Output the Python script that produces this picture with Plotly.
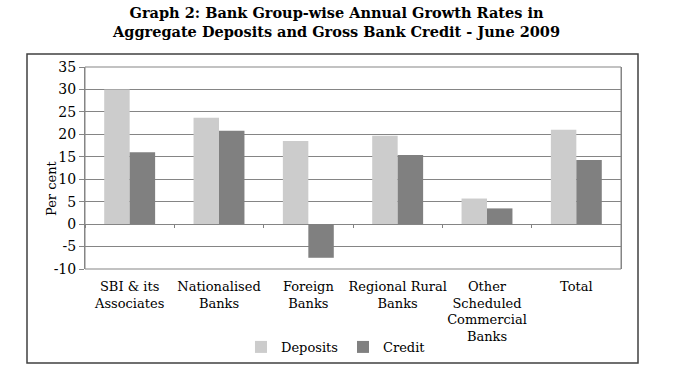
import plotly.graph_objects as go

categories = ["SBI & its<br>Associates", "Nationalised<br>Banks", "Foreign<br>Banks",
              "Regional Rural<br>Banks", "Other<br>Scheduled<br>Commercial<br>Banks", "Total"]
deposits = [30.0, 23.7, 18.5, 19.7, 5.7, 21.0]
credit = [16.0, 20.8, -7.5, 15.4, 3.5, 14.3]
y_ticks = list(range(-10, 40, 5))
y_ticktext = [str(v) for v in y_ticks]

FONT = "DejaVu Serif"
fig = go.Figure()
fig.add_trace(go.Bar(x=categories, y=deposits, name="Deposits", marker_color="#cccccc",
                     marker_line_width=0))
fig.add_trace(go.Bar(x=categories, y=credit, name="Credit", marker_color="#808080",
                     marker_line_width=0))
# invisible trace for the zero-line tick axis
fig.add_trace(go.Scatter(x=categories, y=[None] * len(categories), xaxis="x2", mode="markers",
                         showlegend=False, hoverinfo="skip"))

fig.update_layout(
    width=689, height=378,
    margin=dict(l=85, r=68, t=67, b=109, autoexpand=False),
    paper_bgcolor="white", plot_bgcolor="white",
    font=dict(family=FONT, color="black", size=13),
    barmode="group", bargap=0.43, bargroupgap=0,
    showlegend=True,
    legend=dict(orientation="h", x=0.291, xanchor="left", y=-0.386, yanchor="middle",
                font=dict(family=FONT, size=13), bgcolor="rgba(0,0,0,0)"),
    xaxis=dict(showgrid=False, ticks="outside", ticklen=5, tickcolor="rgba(0,0,0,0)",
               showline=False, zeroline=False, tickangle=0,
               automargin=False, tickfont=dict(family=FONT, size=13)),
    xaxis2=dict(matches="x", overlaying="x", anchor="free", position=(0 - (-10)) / 45,
                showticklabels=False, ticks="outside", ticklen=3, tickcolor="#808080",
                automargin=False,
                tickson="boundaries", showgrid=False, showline=False, zeroline=False),
    yaxis=dict(range=[-10, 35], tickvals=y_ticks, ticktext=y_ticktext, automargin=False,
               showgrid=True, gridcolor="#858585", gridwidth=1,
               zeroline=True, zerolinecolor="#858585", zerolinewidth=1,
               ticks="outside", ticklen=5, tickcolor="#858585",
               showline=True, linecolor="#858585", mirror=True,
               tickfont=dict(family=FONT, size=14)),
)
fig.add_annotation(text="<b>Graph 2: Bank Group-wise Annual Growth Rates in<br>Aggregate Deposits and Gross Bank Credit - June 2009</b>",
                   xref="paper", yref="paper", x=(336 - 85) / 536, y=(269 - 2) / 202,
                   xanchor="center", yanchor="top", showarrow=False,
                   font=dict(family=FONT, size=14.5, color="black"))
fig.add_annotation(text="Per cent", textangle=-90, xref="paper", yref="paper",
                   x=(51 - 85) / 536, y=(269 - 188) / 202, xanchor="center", yanchor="middle",
                   showarrow=False, font=dict(family=FONT, size=13, color="black"))
fig.add_shape(type="rect", xref="paper", yref="paper", x0=0, x1=1, y0=0, y1=1,
              line=dict(color="#858585", width=1), layer="above")
# outer box
fig.add_shape(type="rect", xref="paper", yref="paper",
              x0=(27 - 85) / 536, x1=(638 - 85) / 536, y0=(269 - 363) / 202, y1=(269 - 54) / 202,
              line=dict(color="#404040", width=1.5))
fig.write_html("out.html", config={"displayModeBar": False},
               post_script="document.body.style.margin='0';")
